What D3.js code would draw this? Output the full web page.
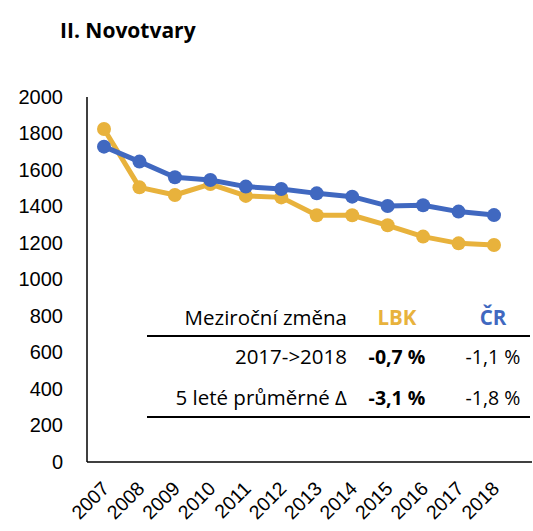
<!DOCTYPE html>
<meta charset="utf-8">
<style>
body { margin: 0; background: #fff; }
svg { font-family: "Open Sans", Lato, sans-serif; }
.axis text { font-size: 20px; fill: #000; }
.axis path { stroke: #000; stroke-width: 1.5px; }
</style>
<svg width="533" height="531"></svg>
<script src="https://d3js.org/d3.v7.min.js"></script>
<script>

var years = [2007, 2008, 2009, 2010, 2011, 2012, 2013, 2014, 2015, 2016, 2017, 2018];
var lbk = [1825, 1505, 1463, 1523, 1458, 1450, 1352, 1352, 1297, 1235, 1198, 1189];
var cr  = [1728, 1646, 1560, 1545, 1509, 1496, 1472, 1454, 1403, 1407, 1372, 1353];
var yTicks = [0, 200, 400, 600, 800, 1000, 1200, 1400, 1600, 1800, 2000];

var tableHead = ["Meziroční změna", "LBK", "ČR"];
var tableRows = [
  ["2017->2018", "-0,7 %", "-1,1 %"],
  ["5 leté průměrné Δ", "-3,1 %", "-1,8 %"]
];

var colLbk = "#e8b23c", colCr = "#4068c0";

var svg = d3.select("svg"),
    plotL = 87, plotR = 532, plotT = 97, plotB = 462;

var x = d3.scalePoint().domain(years).range([104, 494]);
var y = d3.scaleLinear().domain([0, 2000]).range([plotB, plotT]);

svg.append("text")
    .attr("x", 60).attr("y", 38)
    .style("font-size", "21px").style("font-weight", "bold")
    .text("II. Novotvary");

// y axis
var ya = svg.append("g").attr("class", "axis")
    .attr("transform", "translate(" + plotL + ",0)")
    .call(d3.axisLeft(y).tickValues(yTicks).tickFormat(d3.format("d")).tickSize(0).tickPadding(24));
ya.select(".domain").attr("d", "M0," + plotT + "V" + plotB);

// x axis
var xa = svg.append("g").attr("class", "axis")
    .attr("transform", "translate(0," + plotB + ")")
    .call(d3.axisBottom(x).tickFormat(d3.format("d")).tickSize(0));
xa.select(".domain").attr("d", "M" + plotL + ",0H" + plotR);
xa.selectAll("text")
    .attr("text-anchor", "end")
    .style("font-size", "19.5px")
    .attr("transform", "translate(1,23) rotate(-45)")
    .attr("dy", "0.35em").attr("y", 0);

var line = d3.line()
    .x(function(d, i) { return x(years[i]); })
    .y(function(d) { return y(d); });

[[lbk, colLbk], [cr, colCr]].forEach(function(s) {
  svg.append("path").datum(s[0])
      .attr("d", line)
      .attr("fill", "none")
      .attr("stroke", s[1])
      .attr("stroke-width", 5)
      .attr("stroke-linejoin", "round");
  svg.append("g").selectAll("circle").data(s[0]).enter().append("circle")
      .attr("cx", function(d, i) { return x(years[i]); })
      .attr("cy", function(d) { return y(d); })
      .attr("r", 7)
      .attr("fill", s[1]);
});

// table
var t = svg.append("g").style("font-size", "20.5px");
var c0 = 347, c1 = 397, c2 = 493;
t.append("text").attr("x", c0).attr("y", 325).attr("text-anchor", "end").text(tableHead[0]);
t.append("text").attr("x", c1).attr("y", 325).attr("text-anchor", "middle")
    .attr("fill", colLbk).style("font-weight", "bold").text(tableHead[1]);
t.append("text").attr("x", c2).attr("y", 325).attr("text-anchor", "middle")
    .attr("fill", colCr).style("font-weight", "bold").text(tableHead[2]);
t.append("line").attr("x1", 147).attr("x2", 530).attr("y1", 336).attr("y2", 336)
    .attr("stroke", "#000").attr("stroke-width", 2);
t.append("line").attr("x1", 147).attr("x2", 530).attr("y1", 417).attr("y2", 417)
    .attr("stroke", "#000").attr("stroke-width", 2);
tableRows.forEach(function(r, i) {
  var yy = 364 + i * 41;
  t.append("text").attr("x", c0).attr("y", yy).attr("text-anchor", "end").text(r[0]);
  t.append("text").attr("x", c1).attr("y", yy).attr("text-anchor", "middle")
      .style("font-weight", "bold").style("font-size", "19.5px").text(r[1]);
  t.append("text").attr("x", c2).attr("y", yy).attr("text-anchor", "middle")
      .style("font-size", "19.5px").text(r[2]);
});

</script>
